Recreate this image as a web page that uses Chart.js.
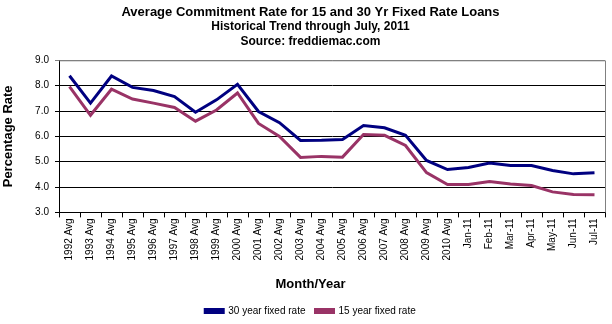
<!DOCTYPE html>
<html>
<head>
<meta charset="utf-8">
<script src="https://cdn.jsdelivr.net/npm/chart.js@4.4.1/dist/chart.umd.min.js"></script>
<style>
  html, body { margin: 0; padding: 0; background: #fff; }
  #chartBox { width: 612px; height: 324px; }
</style>
</head>
<body>
<div id="chartBox"><canvas id="rateChart" width="612" height="324"></canvas></div>
<script>
// categorias del eje x
const periods = ['1992 Avg','1993 Avg','1994 Avg','1995 Avg','1996 Avg','1997 Avg','1998 Avg','1999 Avg',
  '2000 Avg','2001 Avg','2002 Avg','2003 Avg','2004 Avg','2005 Avg','2006 Avg','2007 Avg','2008 Avg',
  '2009 Avg','2010 Avg','Jan-11','Feb-11','Mar-11','Apr-11','May-11','Jun-11','Jul-11'];

// valores
const rate30 = [8.39,7.31,8.38,7.93,7.81,7.57,6.95,7.44,8.05,6.98,6.54,5.84,5.85,5.88,6.43,6.34,6.04,
  5.05,4.69,4.77,4.95,4.85,4.85,4.65,4.52,4.56];
const rate15 = [7.96,6.83,7.86,7.47,7.31,7.14,6.60,7.04,7.71,6.51,6.00,5.17,5.21,5.18,6.07,6.04,5.64,
  4.57,4.10,4.10,4.22,4.12,4.06,3.81,3.71,3.70];

const yTicks = [3,4,5,6,7,8,9];

const sans = "'Liberation Sans', Arial, sans-serif";

// borde gris arriba y a la derecha del area de trazado
const plotBorder = {
  id: 'plotBorder',
  beforeDatasetsDraw(chart) {
    const {ctx, chartArea} = chart;
    ctx.save();
    ctx.strokeStyle = '#808080';
    ctx.lineWidth = 1;
    ctx.beginPath();
    ctx.moveTo(chartArea.left, chartArea.top + 0.5);
    ctx.lineTo(chartArea.right + 0.5, chartArea.top + 0.5);
    ctx.lineTo(chartArea.right + 0.5, chartArea.bottom);
    ctx.stroke();
    ctx.restore();
  }
};

new Chart(document.querySelector('#rateChart'), {
  type: 'line',
  data: {
    labels: periods,
    datasets: [{
      label: '30 year fixed rate',
      data: rate30,
      borderColor: '#000080',
      backgroundColor: '#000080',
      borderWidth: 3,
      pointRadius: 0,
      tension: 0
    }, {
      label: '15 year fixed rate',
      data: rate15,
      borderColor: '#993366',
      backgroundColor: '#993366',
      borderWidth: 3,
      pointRadius: 0,
      tension: 0
    }]
  },
  options: {
    responsive: false,
    animation: false,
    layout: { padding: { left: 16, right: 7, top: 0, bottom: -2 } },
    plugins: {
      title: {
        display: true,
        text: 'Average Commitment Rate for 15 and 30 Yr Fixed Rate Loans',
        color: '#000',
        font: { family: sans, size: 13, weight: 'bold', lineHeight: 1.1 },
        padding: { top: 5, bottom: 0 }
      },
      subtitle: {
        display: true,
        text: ['Historical Trend through July, 2011', 'Source: freddiemac.com'],
        color: '#000',
        font: { family: sans, size: 12, weight: 'bold', lineHeight: 1.25 },
        padding: { top: 0, bottom: 11 }
      },
      legend: {
        position: 'bottom',
        // el titulo del eje x va como titulo de la leyenda para que quede centrado igual
        title: {
          display: true,
          text: 'Month/Year',
          color: '#000',
          font: { family: sans, size: 13, weight: 'bold' },
          padding: { top: 3, bottom: 2 }
        },
        labels: {
          color: '#000',
          font: { family: sans, size: 10 },
          boxWidth: 18,
          boxHeight: 3,
          padding: 10
        }
      },
      tooltip: { enabled: false }
    },
    scales: {
      x: {
        offset: true,
        grid: { display: true, drawOnChartArea: false, offset: true, color: '#000', tickLength: 5 },
        border: { color: '#000' },
        ticks: {
          color: '#000',
          font: { family: sans, size: 10 },
          minRotation: 90,
          maxRotation: 90,
          autoSkip: false,
          padding: 1
        },
        afterFit(scale) { scale.height = 63; }
      },
      y: {
        min: 3,
        max: 9,
        afterBuildTicks(scale) { scale.ticks = yTicks.map(v => ({ value: v })); },
        grid: {
          color: ctx => (ctx.tick && ctx.tick.value === 9 ? '#808080' : '#000'),
          tickLength: 4
        },
        border: { color: '#000' },
        ticks: {
          color: '#000',
          font: { family: sans, size: 10 },
          padding: 6,
          callback: v => Number(v).toFixed(1)
        },
        title: {
          display: true,
          text: 'Percentage Rate',
          color: '#000',
          font: { family: sans, size: 13, weight: 'bold' },
          padding: { top: -15, bottom: 0 }
        },
        afterFit(scale) { scale.width = 43; }
      }
    }
  },
  plugins: [plotBorder]
});
</script>
</body>
</html>
